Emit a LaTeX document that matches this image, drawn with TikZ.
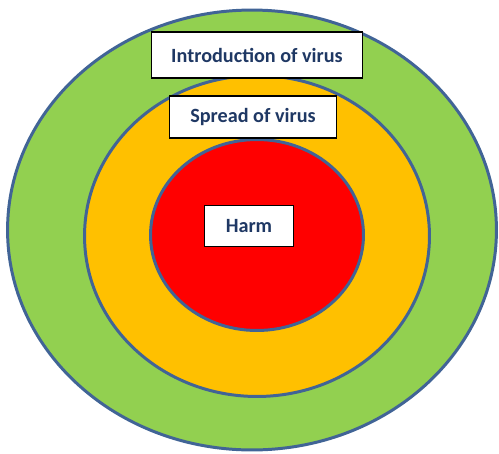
\documentclass[tikz,border=0pt]{standalone}
\usepackage{fontspec}
\setmainfont{Carlito}
\usepackage{tikz}
\usetikzlibrary{shapes.geometric}
\definecolor{cgreen}{RGB}{146,208,80}
\definecolor{corange}{RGB}{255,192,0}
\definecolor{cred}{RGB}{255,0,0}
\definecolor{cring}{RGB}{65,100,150}
\definecolor{ctext}{RGB}{31,56,100}
\tikzset{
  ring/.style={ellipse,draw=cring,line width=1.7pt,inner sep=0pt},
  label box/.style={rectangle,draw=black,line width=1.1pt,fill=white,
    inner sep=0pt,font=\fontsize{11.5}{13}\selectfont\bfseries,text=ctext}
}
\begin{document}
\begin{tikzpicture}[x=0.02cm,y=-0.02cm]
  \useasboundingbox (0,0) rectangle (499,453);
  % rings, from outside in
  \node[ring,fill=cgreen,minimum width=9.78cm,minimum height=8.8cm] (outer) at (252,230) {};
  \node[ring,fill=corange,minimum width=6.9cm,minimum height=6.42cm] (middle) at (257,236) {};
  \node[ring,fill=cred,minimum width=4.26cm,minimum height=3.82cm] (inner) at (257,235) {};
  % labels
  \node[label box,minimum width=4.22cm,minimum height=0.92cm] (intro) at (257,55) {Introduction of virus};
  \node[label box,minimum width=3.34cm,minimum height=0.84cm] (spread) at (253,117) {Spread of virus};
  \node[label box,minimum width=1.78cm,minimum height=0.82cm] (harm) at (249,226) {Harm};
\end{tikzpicture}
\end{document}
